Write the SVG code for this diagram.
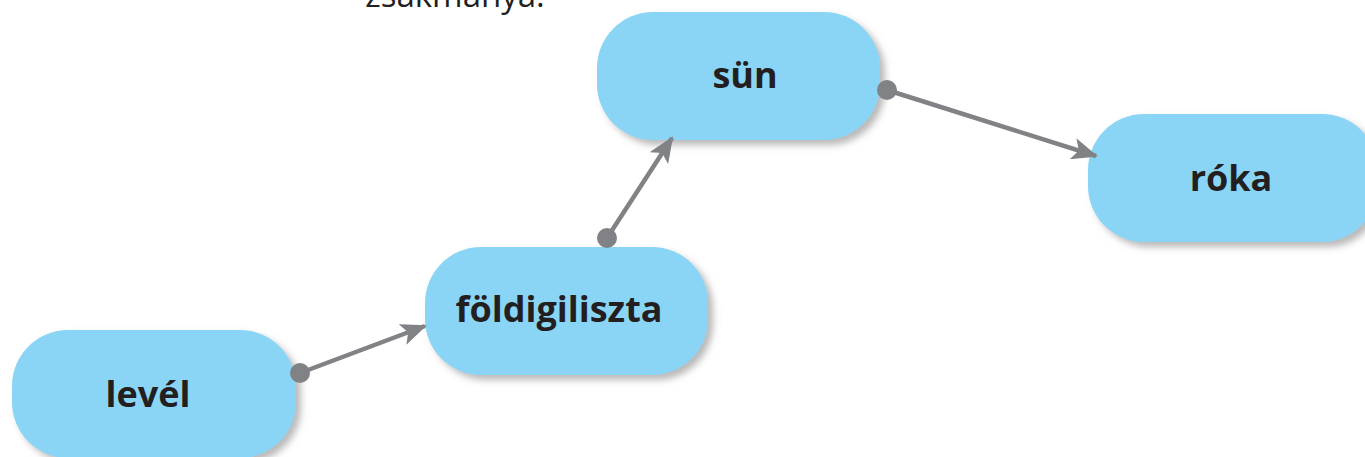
<svg xmlns="http://www.w3.org/2000/svg" width="1365" height="457" viewBox="0 0 1365 457">
<defs>
<filter id="sh" x="-10%" y="-10%" width="130%" height="140%">
<feDropShadow dx="5" dy="5" stdDeviation="3.5" flood-color="#808080" flood-opacity="0.55"/>
</filter>
<marker id="arr" viewBox="0 0 26 22" refX="24" refY="11" markerWidth="26" markerHeight="22" markerUnits="userSpaceOnUse" orient="auto">
<path d="M0,0 L26,11 L0,22 L6,11 Z" fill="#808285"/>
</marker>
</defs>
<style>
.node{fill:#8AD5F5;filter:url(#sh)}
.lbl{font-family:"Open Sans","Liberation Sans",sans-serif;font-weight:bold;font-size:36px;fill:#231F20;text-anchor:middle}
.con{stroke:#808285;stroke-width:4.5;fill:none;marker-end:url(#arr)}
.dot{fill:#808285}
</style>
<text x="455" y="7" style="font-family:'Open Sans','Liberation Sans',sans-serif;font-size:33px;fill:#231F20;text-anchor:middle">zsákmánya.</text>
<g id="level"><rect class="node" x="12" y="330" width="284" height="128" rx="56"/><text class="lbl" x="148" y="407">levél</text></g>
<g id="foldigiliszta"><rect class="node" x="425" y="247" width="283" height="128" rx="56"/><text class="lbl" x="559" y="322">földigiliszta</text></g>
<g id="sun"><rect class="node" x="597" y="12" width="283" height="128" rx="56"/><text class="lbl" x="745" y="88">sün</text></g>
<g id="roka"><rect class="node" x="1088" y="114" width="290" height="128" rx="56"/><text class="lbl" x="1231" y="191">róka</text></g>
<g id="connectors">
<line class="con" x1="300" y1="373" x2="425" y2="326"/>
<circle class="dot" cx="300" cy="373" r="10"/>
<line class="con" x1="607" y1="238" x2="672" y2="138"/>
<circle class="dot" cx="607" cy="238" r="10"/>
<line class="con" x1="887" y1="90" x2="1096" y2="156"/>
<circle class="dot" cx="887" cy="90" r="10"/>
</g>
</svg>
